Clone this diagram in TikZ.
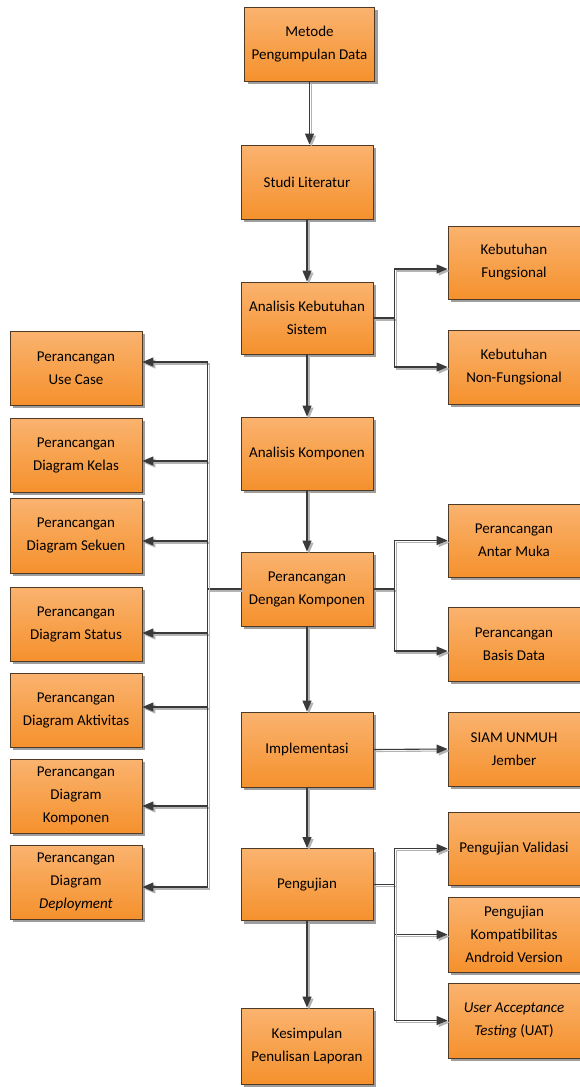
\documentclass[tikz,border=0pt]{standalone}
\usepackage{fontspec}
\setmainfont{Carlito}
\usetikzlibrary{arrows.meta,shadows,calc}
\definecolor{boxtop}{HTML}{FAB36F}
\definecolor{boxbot}{HTML}{F5912D}
\definecolor{boxline}{HTML}{4F3A26}
\definecolor{linedark}{HTML}{3A3A3A}
\definecolor{lineshade}{HTML}{B4B4B4}
\tikzset{
  box/.style={draw=boxline, line width=0.9pt, top color=boxtop, bottom color=boxbot,
    minimum width=132pt, minimum height=74pt, align=center, inner sep=2pt,
    font=\fontsize{15}{23}\selectfont,
    drop shadow={shadow xshift=3pt, shadow yshift=-3pt, fill=black!38, opacity=1}},
  conn/.style={draw=linedark, line width=1.1pt, -{Triangle[length=11pt,width=9pt]},
    preaction={draw=lineshade, line width=1.1pt, transform canvas={shift={(2pt,-2pt)}}}},
  plain/.style={draw=linedark, line width=1.1pt,
    preaction={draw=lineshade, line width=1.1pt, transform canvas={shift={(2pt,-2pt)}}}},
}
\begin{document}
\begin{tikzpicture}[x=1pt,y=-1pt]
\fill[white] (0,0) rectangle (579,1087);
\useasboundingbox (0,0) rectangle (579,1087);
% main column
\node[box, minimum width=130pt] (m1) at (309.5,44) {Metode\\Pengumpulan Data};
\node[box] (m2) at (307,182) {Studi Literatur};
\node[box, minimum height=72pt] (m3) at (307,318) {Analisis Kebutuhan\\Sistem};
\node[box, minimum height=73pt] (m4) at (307,453.5) {Analisis Komponen};
\node[box] (m5) at (307,589) {Perancangan\\Dengan Komponen};
\node[box, minimum height=75pt] (m6) at (307,749.5) {Implementasi};
\node[box, minimum height=72pt] (m7) at (307,884.5) {Pengujian};
\node[box, minimum height=76pt] (m8) at (307,1046) {Kesimpulan\\Penulisan Laporan};
% right column
\node[box, minimum height=73pt] (kf) at (514,262.5) {Kebutuhan\\Fungsional};
\node[box] (nf) at (514,367) {Kebutuhan\\Non-Fungsional};
\node[box, minimum height=73pt] (am) at (514,540.5) {Perancangan\\Antar Muka};
\node[box] (bd) at (514,644) {Perancangan\\Basis Data};
\node[box] (si) at (514,749) {SIAM UNMUH\\Jember};
\node[box, minimum height=73pt] (pv) at (514,848.5) {Pengujian Validasi};
\node[box, minimum height=75pt] (pk) at (514,934.5) {Pengujian\\Kompatibilitas\\Android Version};
\node[box, minimum height=75pt] (ua) at (514,1020.5) {\textit{User Acceptance}\\\textit{Testing} (UAT)};
% left column
\node[box] (uc) at (76,368) {Perancangan\\Use Case};
\node[box] (dk) at (76,455) {Perancangan\\Diagram Kelas};
\node[box, minimum height=75pt] (ds) at (76,535.5) {Perancangan\\Diagram Sekuen};
\node[box] (dst) at (76,624) {Perancangan\\Diagram Status};
\node[box] (da) at (76,710) {Perancangan\\Diagram Aktivitas};
\node[box] (dko) at (76,796) {Perancangan\\Diagram\\Komponen};
\node[box] (dd) at (76,882) {Perancangan\\Diagram\\\textit{Deployment}};
% main vertical arrows
\draw[conn] (m1.south) -- (m1.south |- m2.north);
\foreach \a/\b in {m2/m3,m3/m4,m4/m5,m5/m6,m6/m7,m7/m8}
  \draw[conn] (\a.south) -- (\b.north);
% analisis kebutuhan bracket
\coordinate (rb1) at ($(m3.east)+(21,0)$);
\draw[plain] (m3.east) -- (rb1);
\draw[conn] (rb1) |- ([yshift=-6.5pt]kf.west);
\draw[conn] (rb1) |- (nf.west);
% perancangan dengan komponen right bracket
\coordinate (rb2) at ($(m5.east)+(21,0)$);
\draw[plain] (m5.east) -- (rb2);
\draw[conn] (rb2) |- (am.west);
\draw[conn] (rb2) |- ([yshift=-7pt]bd.west);
% implementasi
\draw[conn] (m6.east) -- (si.west);
% pengujian bracket
\coordinate (rb3) at ($(m7.east)+(21,0)$);
\draw[plain] (m7.east) -- (rb3);
\draw[conn] (rb3) |- (pv.west);
\draw[conn] (rb3) |- (pk.west);
\draw[conn] (rb3) |- (ua.west);
% left bracket
\coordinate (lb) at ($(m5.west)+(-33,0)$);
\draw[plain] (m5.west) -- (lb);
\draw[conn] (lb) |- ([yshift=6pt]uc.east);
\draw[conn] (lb) |- ([yshift=-6pt]dk.east);
\draw[conn] (lb) |- ([yshift=-5.5pt]ds.east);
\draw[conn] (lb) |- ([yshift=-9pt]dst.east);
\draw[conn] (lb) |- ([yshift=3pt]da.east);
\draw[conn] (lb) |- ([yshift=-10pt]dko.east);
\draw[conn] (lb) |- ([yshift=-5pt]dd.east);
\end{tikzpicture}
\end{document}
